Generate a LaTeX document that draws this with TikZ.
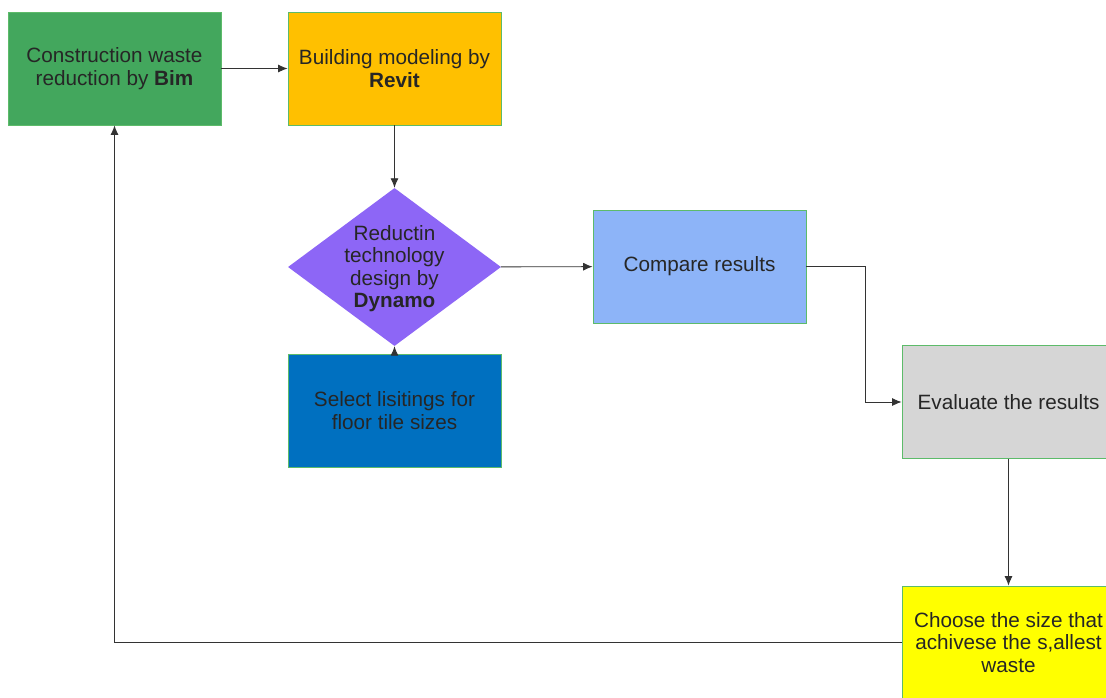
\documentclass[tikz,border=0pt]{standalone}
\usepackage{fontspec}
\setmainfont{Liberation Sans}
\usetikzlibrary{arrows.meta,shapes.geometric}
\definecolor{cgreen}{HTML}{43A75D}
\definecolor{corange}{HTML}{FFC000}
\definecolor{cpurple}{HTML}{8D66F6}
\definecolor{cdblue}{HTML}{0070C0}
\definecolor{clblue}{HTML}{8DB4F8}
\definecolor{cgray}{HTML}{D6D6D6}
\definecolor{cyellow}{HTML}{FFFF00}
\definecolor{cborder}{HTML}{5DBB6A}
\definecolor{ctext}{HTML}{262626}
\definecolor{cline}{HTML}{333333}
\begin{document}
\begin{tikzpicture}[x=1pt,y=-1pt,
  box/.style={draw=cborder, line width=0.8pt, minimum width=213pt, minimum height=113pt,
    inner sep=0pt, align=center, text=ctext, font=\fontsize{20.7}{22.5}\selectfont},
  lbl/.style={align=center, inner sep=0pt, text=ctext, font=\fontsize{20.7}{22.5}\selectfont},
  arr/.style={draw=cline, line width=0.9pt, -{Latex[length=9.5pt,width=8pt]}}]
\useasboundingbox (0,0) rectangle (1106,697);
\clip (0,0) rectangle (1106,697);
\fill[white] (0,0) rectangle (1106,697);
\node[box, fill=cgreen] (bim) at (114.5,68.5) {Construction waste\\reduction by \textbf{Bim}};
\node[box, fill=corange] (revit) at (394.5,68.5) {Building modeling by\\\textbf{Revit}};
\node[diamond, fill=cpurple, minimum width=213pt, minimum height=158pt, inner sep=0pt] (dyn) at (394.5,267) {};
\node[lbl] (dyntext) at (394.5,268.5) {Reductin\\technology\\design by\\\textbf{Dynamo}};
\node[box, fill=cdblue] (sel) at (394.5,410.5) {Select lisitings for\\floor tile sizes};
\node[box, fill=clblue] (cmp) at (699.5,266.5) {Compare results};
\node[box, fill=cgray] (eval) at (1008.5,402) {Evaluate the results};
\node[box, fill=cyellow] (choose) at (1008.5,642.5) {Choose the size that\\achivese the s,allest\\waste};
\coordinate (k1) at (865,266.5);
\draw[arr] (bim) -- (revit);
\draw[arr] (revit) -- (dyn);
\draw[arr] (dyn) -- (cmp);
\draw[arr] (sel) -- (dyn);
\draw[arr] (cmp.east) -- (k1) |- (eval.west);
\draw[arr] (eval) -- (choose);
\draw[arr] (choose.west) -| (bim.south);
\end{tikzpicture}
\end{document}
